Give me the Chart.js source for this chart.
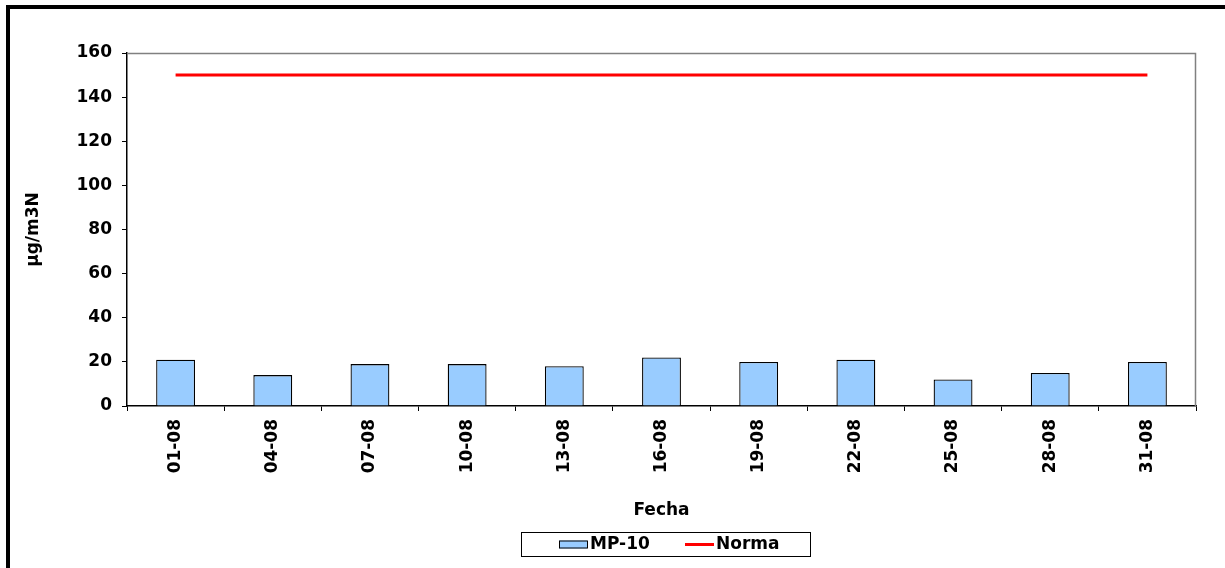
<!DOCTYPE html>
<html>
<head>
<meta charset="utf-8">
<script src="https://cdn.jsdelivr.net/npm/chart.js@4/dist/chart.umd.min.js"></script>
<style>
  html, body { margin: 0; padding: 0; background: #fff; overflow: hidden; }
  #wrap { position: absolute; left: 0; top: 0; width: 1225px; height: 568px; }
  #frame { position: absolute; left: 6px; top: 5px; width: 1300px; height: 700px;
           border-left: 4px solid #000; border-top: 4px solid #000; pointer-events: none; }
</style>
</head>
<body>
<div id="wrap"><canvas id="c" width="1225" height="568"></canvas></div>
<div id="frame"></div>
<script>
const categories = ['01-08','04-08','07-08','10-08','13-08','16-08','19-08','22-08','25-08','28-08','31-08'];
const mp10Values = [21, 14, 19, 19, 18, 22, 20, 21, 12, 15, 20];
const normaValues = [150, 150, 150, 150, 150, 150, 150, 150, 150, 150, 150];
const yTicks = [0, 20, 40, 60, 80, 100, 120, 140, 160];

const FONT = 'DejaVu Sans, Verdana, sans-serif';
const FS = 17;

const plotFrame = {
  id: 'plotFrame',
  afterDatasetsDraw(chart) {
    const a = chart.chartArea, ctx = chart.ctx;
    ctx.save();
    ctx.strokeStyle = '#808080';
    ctx.lineWidth = 1.5;
    ctx.beginPath();
    ctx.moveTo(a.left, a.top + 0.5);
    ctx.lineTo(a.right - 0.5, a.top + 0.5);
    ctx.lineTo(a.right - 0.5, a.bottom);
    ctx.stroke();
    ctx.restore();
  },
  afterDraw(chart) {
    const ctx = chart.ctx;
    const a = chart.chartArea;
    const cx = (a.left + a.right) / 2 + 4;
    const w = 289, h = 24;
    const left = Math.round(cx - w / 2), top = 532;
    ctx.save();
    ctx.strokeStyle = '#000';
    ctx.lineWidth = 1;
    ctx.strokeRect(left + 0.5, top + 0.5, w, h);
    const midY = top + h / 2 + 0.5;
    const ds = chart.data.datasets;
    const bar = ds[1], line = ds[0];
    ctx.font = 'bold ' + FS + 'px ' + FONT;
    ctx.textBaseline = 'middle';
    let x = left + 38;
    ctx.fillStyle = bar.backgroundColor;
    ctx.fillRect(x, midY - 4, 28, 8);
    ctx.strokeStyle = '#000';
    ctx.strokeRect(x + 0.5, midY - 3.5, 28, 7);
    ctx.fillStyle = '#000';
    ctx.fillText(bar.label, x + 31, midY);
    x = left + 164;
    ctx.strokeStyle = line.borderColor;
    ctx.lineWidth = 3;
    ctx.beginPath();
    ctx.moveTo(x, midY);
    ctx.lineTo(x + 29, midY);
    ctx.stroke();
    ctx.fillStyle = '#000';
    ctx.fillText(line.label, x + 31, midY);
    ctx.restore();
  }
};

new Chart(document.getElementById('c'), {
  type: 'bar',
  data: {
    labels: categories,
    datasets: [
      {
        type: 'line',
        label: 'Norma',
        data: normaValues,
        borderColor: '#ff0000',
        backgroundColor: '#ff0000',
        borderWidth: 3,
        pointRadius: 0,
        fill: false,
        order: 0
      },
      {
        type: 'bar',
        label: 'MP-10',
        data: mp10Values,
        backgroundColor: '#99ccff',
        borderColor: '#000000',
        borderWidth: 1.3,
        barPercentage: 0.4,
        categoryPercentage: 1.0,
        order: 1
      }
    ]
  },
  options: {
    responsive: false,
    animation: false,
    devicePixelRatio: 1,
    layout: { padding: { left: 23, top: 53, right: 29, bottom: 38 } },
    plugins: {
      tooltip: { enabled: false },
      legend: { display: false }
    },
    scales: {
      x: {
        offset: true,
        grid: { offset: true, drawOnChartArea: false, drawTicks: true, tickLength: 5, color: '#000', lineWidth: 1 },
        border: { display: true, color: '#000', width: 1.5 },
        ticks: { color: '#000', maxRotation: 90, minRotation: 90, autoSkip: false, padding: 8,
                 font: { family: FONT, size: FS, weight: 'bold' } },
        title: { display: true, text: 'Fecha', color: '#000', padding: { top: 0, bottom: 9 },
                 font: { family: FONT, size: FS, weight: 'bold' } },
        afterFit(scale) { scale.height = 124; }
      },
      y: {
        min: 0, max: 160,
        afterBuildTicks(scale) { scale.ticks = yTicks.map(v => ({ value: v })); },
        grid: { drawOnChartArea: false, drawTicks: true, tickLength: 5, color: '#000', lineWidth: 1 },
        border: { display: true, color: '#000', width: 1.5 },
        ticks: { color: '#000', padding: 10, font: { family: FONT, size: FS, weight: 'bold' } },
        title: { display: true, text: 'µg/m3N', color: '#000', padding: 0,
                 font: { family: FONT, size: FS, weight: 'bold' } },
        afterFit(scale) { scale.width = 104; }
      }
    }
  },
  plugins: [plotFrame]
});
</script>
</body>
</html>
